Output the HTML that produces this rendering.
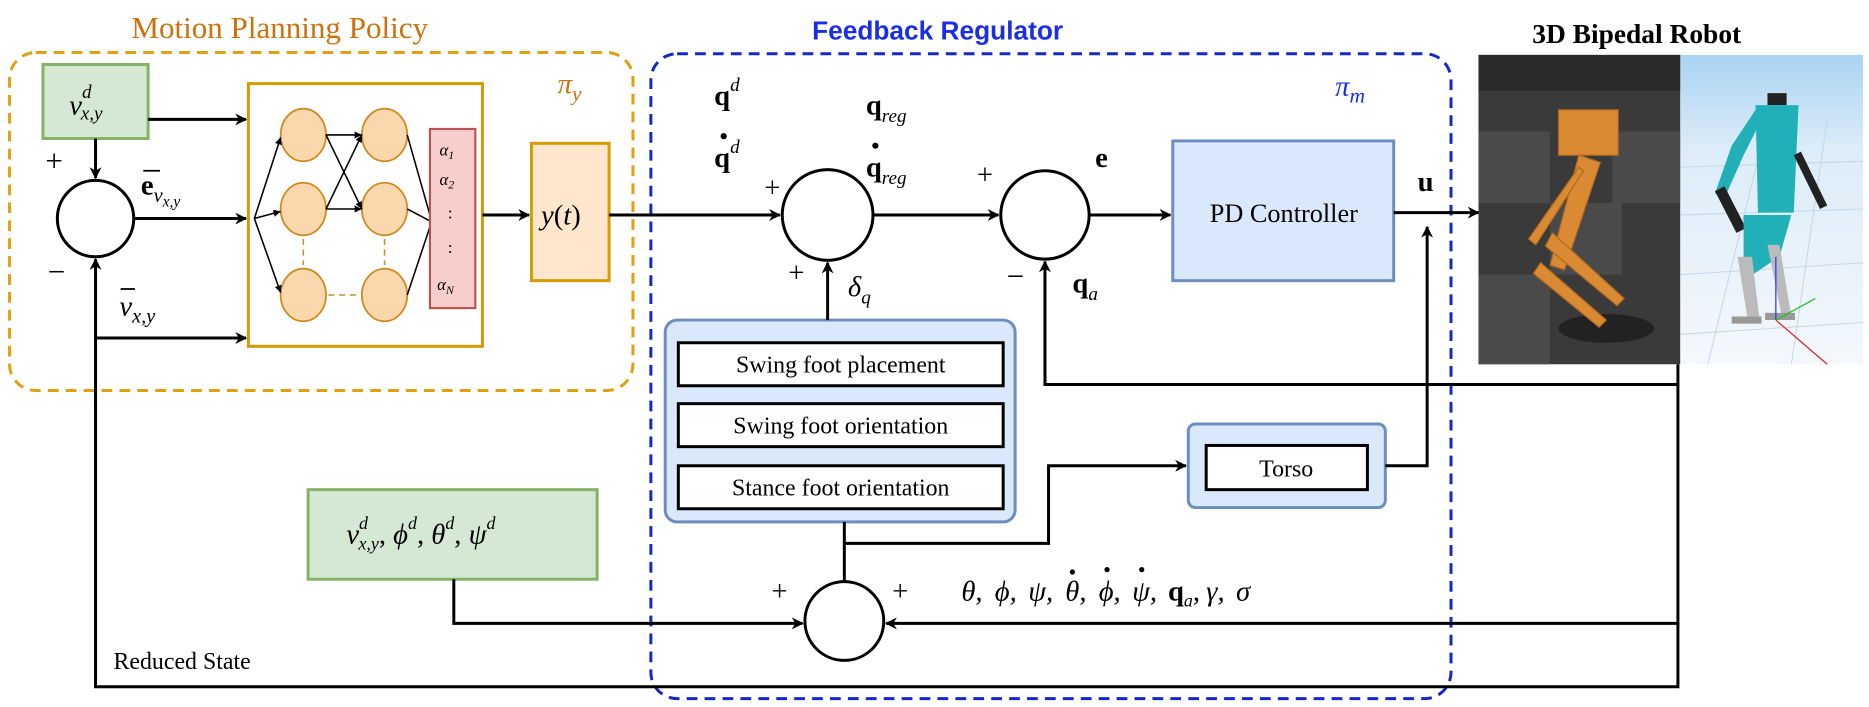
<!DOCTYPE html>
<html><head><meta charset="utf-8"><style>
html,body{margin:0;padding:0;background:#fff;}
svg{display:block;}
text{font-family:"Liberation Serif",serif;}
.m{font-style:italic;font-size:24px;}
.b{font-weight:bold;font-size:24px;}
.s{font-size:15px;font-style:italic;}
</style></head><body>
<svg width="1869" height="707" viewBox="0 0 1565 592" preserveAspectRatio="none" xmlns="http://www.w3.org/2000/svg">
<defs>
<marker id="a" markerWidth="10" markerHeight="10" refX="9" refY="5" orient="auto" markerUnits="userSpaceOnUse"><path d="M0,0 L10,5 L0,10 L3,5 z" fill="#000"/></marker>
<marker id="as" markerWidth="6" markerHeight="6" refX="6" refY="3" orient="auto" markerUnits="userSpaceOnUse"><path d="M0,0 L6,3 L0,6 z" fill="#000"/></marker>
<linearGradient id="sky" x1="0" y1="0" x2="0" y2="1"><stop offset="0" stop-color="#a9d3f3"/><stop offset="0.3" stop-color="#dcecf8"/><stop offset="1" stop-color="#f4f8fc"/></linearGradient>
</defs>

<text x="110" y="32" font-size="26" fill="#d0700a">Motion Planning Policy</text>
<text x="680" y="33" font-size="22" font-weight="bold" fill="#1a2ee8" style="font-family:'Liberation Sans',sans-serif">Feedback Regulator</text>
<text x="1283" y="36" font-size="23" font-weight="bold" fill="#000">3D Bipedal Robot</text>

<rect x="8" y="44" width="522" height="283" rx="22" fill="none" stroke="#e0a010" stroke-width="2.5" stroke-dasharray="9,6"/>
<rect x="545" y="45" width="670" height="540" rx="22" fill="none" stroke="#1428c8" stroke-width="2.5" stroke-dasharray="9,6"/>
<text x="467" y="78" class="m" fill="#d0700a" font-size="28">π<tspan font-size="18" dy="6">y</tspan></text>
<text x="1118" y="80" class="m" fill="#1a2ee8" font-size="28">π<tspan font-size="18" dy="6">m</tspan></text>

<rect x="36" y="54" width="88" height="62" fill="#d5e8d4" stroke="#82b366" stroke-width="2.5"/>
<text x="58" y="96" class="m">v<tspan font-size="16" dy="-14">d</tspan><tspan font-size="16" dx="-9" dy="18">x,y</tspan></text>

<circle cx="80" cy="183" r="32" fill="#fff" stroke="#000" stroke-width="2.5"/>
<line x1="80" y1="116" x2="80" y2="149" stroke="#000" stroke-width="2.5" marker-end="url(#a)"/>
<line x1="124" y1="100" x2="206" y2="100" stroke="#000" stroke-width="2.5" marker-end="url(#a)"/>
<line x1="112" y1="183" x2="206" y2="183" stroke="#000" stroke-width="2.5" marker-end="url(#a)"/>
<line x1="80" y1="283" x2="206" y2="283" stroke="#000" stroke-width="2.5" marker-end="url(#a)"/>
<text x="38" y="143" font-size="26">+</text>
<text x="40" y="236" font-size="26">−</text>
<text x="118" y="163" class="b">e<tspan font-size="17" font-style="italic" font-weight="normal" dy="6">v</tspan><tspan font-size="13" font-style="italic" font-weight="normal" dy="4">x,y</tspan></text>
<line x1="120" y1="143" x2="134" y2="143" stroke="#000" stroke-width="1.5"/>
<text x="100" y="264" class="m">v<tspan font-size="17" dy="6">x,y</tspan></text>
<line x1="101" y1="242" x2="113" y2="242" stroke="#000" stroke-width="1.5"/>

<rect x="208" y="70" width="196" height="220" fill="#fff" stroke="#d79b00" stroke-width="2.5"/>
<g fill="#fad7ac" stroke="#d08a20" stroke-width="1.5">
<ellipse cx="254" cy="113" rx="19" ry="22"/><ellipse cx="322" cy="113" rx="19" ry="22"/>
<ellipse cx="254" cy="175" rx="19" ry="22"/><ellipse cx="322" cy="175" rx="19" ry="22"/>
<ellipse cx="254" cy="247" rx="19" ry="22"/><ellipse cx="322" cy="247" rx="19" ry="22"/>
</g>
<g stroke="#d08a20" stroke-width="1.3" stroke-dasharray="5,4">
<line x1="254" y1="200" x2="254" y2="222"/><line x1="322" y1="200" x2="322" y2="222"/><line x1="275" y1="247" x2="302" y2="247"/>
</g>
<g stroke="#000" stroke-width="1.3" fill="none">
<line x1="213" y1="183" x2="235" y2="115" marker-end="url(#as)"/>
<line x1="213" y1="183" x2="235" y2="177" marker-end="url(#as)"/>
<line x1="213" y1="183" x2="235" y2="245" marker-end="url(#as)"/>
<line x1="273" y1="113" x2="303" y2="113" marker-end="url(#as)"/>
<line x1="273" y1="113" x2="303" y2="175" marker-end="url(#as)"/>
<line x1="273" y1="175" x2="303" y2="113" marker-end="url(#as)"/>
<line x1="273" y1="175" x2="303" y2="175" marker-end="url(#as)"/>
<line x1="341" y1="113" x2="360" y2="180"/>
<line x1="341" y1="175" x2="360" y2="185"/>
<line x1="341" y1="247" x2="360" y2="190"/>
</g>
<rect x="360" y="108" width="38" height="150" fill="#f8cecc" stroke="#b85450" stroke-width="1.8"/>
<g font-size="14"><text x="368" y="130" font-style="italic">α<tspan font-size="10" dy="3">1</tspan></text>
<text x="368" y="155" font-style="italic">α<tspan font-size="10" dy="3">2</tspan></text>
<text x="375" y="183">:</text><text x="375" y="212">:</text>
<text x="366" y="243" font-style="italic">α<tspan font-size="10" dy="3">N</tspan></text></g>

<line x1="404" y1="180" x2="443" y2="180" stroke="#000" stroke-width="2.5" marker-end="url(#a)"/>
<rect x="445" y="120" width="65" height="115" fill="#ffe6cc" stroke="#d79b00" stroke-width="2.5"/>
<text x="453" y="188" class="m" font-size="23">y<tspan font-style="normal">(</tspan>t<tspan font-style="normal">)</tspan></text>

<line x1="510" y1="180" x2="653" y2="180" stroke="#000" stroke-width="2.5" marker-end="url(#a)"/>
<circle cx="693" cy="180" r="38" fill="#fff" stroke="#000" stroke-width="2.5"/>
<text x="598" y="88" class="b">q<tspan font-size="16" font-weight="normal" font-style="italic" dy="-12">d</tspan></text>
<text x="598" y="140" class="b">q<tspan font-size="16" font-weight="normal" font-style="italic" dy="-12">d</tspan></text>
<circle cx="606" cy="114" r="2.6" fill="#000"/>
<text x="640" y="165" font-size="24">+</text>
<text x="725" y="96" class="b">q<tspan font-size="16" font-weight="normal" font-style="italic" dy="6">reg</tspan></text>
<text x="725" y="148" class="b">q<tspan font-size="16" font-weight="normal" font-style="italic" dy="6">reg</tspan></text>
<circle cx="733" cy="122" r="2.6" fill="#000"/>
<text x="660" y="236" font-size="24">+</text>
<text x="710" y="248" class="m">δ<tspan font-size="16" dy="6">q</tspan></text>

<line x1="731" y1="180" x2="836" y2="180" stroke="#000" stroke-width="2.5" marker-end="url(#a)"/>
<circle cx="875" cy="180" r="37" fill="#fff" stroke="#000" stroke-width="2.5"/>
<text x="818" y="154" font-size="24">+</text>
<text x="917" y="140" class="b">e</text>
<text x="843" y="240" font-size="26">−</text>
<text x="898" y="245" class="b">q<tspan font-size="16" font-weight="normal" font-style="italic" dy="6">a</tspan></text>

<line x1="912" y1="180" x2="980" y2="180" stroke="#000" stroke-width="2.5" marker-end="url(#a)"/>
<rect x="982" y="118" width="185" height="117" fill="#dae8fc" stroke="#6c8ebf" stroke-width="2.5"/>
<text x="1075" y="186" font-size="22" text-anchor="middle">PD Controller</text>

<line x1="1167" y1="178" x2="1238" y2="178" stroke="#000" stroke-width="2.5" marker-end="url(#a)"/>
<text x="1187" y="160" class="b">u</text>

<rect x="995" y="355" width="165" height="70" rx="6" fill="#dae8fc" stroke="#6c8ebf" stroke-width="2.5"/>
<rect x="1010" y="373" width="135" height="37" fill="#fff" stroke="#000" stroke-width="2.5"/>
<text x="1077" y="399" font-size="20" text-anchor="middle">Torso</text>
<polyline points="1160,390 1195,390 1195,190" fill="none" stroke="#000" stroke-width="2.5" marker-end="url(#a)"/>

<polyline points="1405,305 1405,322 875,322 875,219" fill="none" stroke="#000" stroke-width="2.5" marker-end="url(#a)"/>

<rect x="557" y="268" width="293" height="169" rx="10" fill="#dae8fc" stroke="#6c8ebf" stroke-width="2.5"/>
<rect x="568" y="287" width="272" height="36" fill="#fff" stroke="#000" stroke-width="2.5"/>
<rect x="568" y="338" width="272" height="36" fill="#fff" stroke="#000" stroke-width="2.5"/>
<rect x="568" y="390" width="272" height="36" fill="#fff" stroke="#000" stroke-width="2.5"/>
<text x="704" y="312" font-size="20" text-anchor="middle">Swing foot placement</text>
<text x="704" y="363" font-size="20" text-anchor="middle">Swing foot orientation</text>
<text x="704" y="415" font-size="20" text-anchor="middle">Stance foot orientation</text>
<line x1="693" y1="268" x2="693" y2="220" stroke="#000" stroke-width="2.5" marker-end="url(#a)"/>

<polyline points="707,487 707,455 878,455 878,390 993,390" fill="none" stroke="#000" stroke-width="2.5" marker-end="url(#a)"/>
<line x1="707" y1="437" x2="707" y2="455" stroke="#000" stroke-width="2.5"/>

<circle cx="707" cy="520" r="33" fill="#fff" stroke="#000" stroke-width="2.5"/>
<text x="646" y="503" font-size="24">+</text>
<text x="747" y="503" font-size="24">+</text>
<rect x="258" y="410" width="242" height="75" fill="#d5e8d4" stroke="#82b366" stroke-width="2.5"/>
<text x="290" y="455" class="m" font-size="23">v<tspan font-size="15" dy="-12">d</tspan><tspan font-size="15" dx="-8" dy="17">x,y</tspan><tspan dy="-5" font-style="normal">, </tspan>ϕ<tspan font-size="15" dy="-12">d</tspan><tspan dy="12" font-style="normal">, </tspan>θ<tspan font-size="15" dy="-12">d</tspan><tspan dy="12" font-style="normal">, </tspan>ψ<tspan font-size="15" dy="-12">d</tspan></text>
<polyline points="380,485 380,522 672,522" fill="none" stroke="#000" stroke-width="2.5" marker-end="url(#a)"/>
<polyline points="1405,322 1405,522 742,522" fill="none" stroke="#000" stroke-width="2.5" marker-end="url(#a)"/>
<g class="m" font-size="22" font-style="italic">
<text x="805" y="503">θ,</text>
<text x="833" y="503">ϕ,</text>
<text x="861" y="503">ψ,</text>
<text x="892" y="503">θ,</text>
<text x="920" y="503">ϕ,</text>
<text x="948" y="503">ψ,</text>
<text x="978" y="503" font-weight="bold" font-style="normal">q<tspan font-size="15" font-weight="normal" font-style="italic" dy="5">a</tspan><tspan dy="-5" font-weight="normal" font-style="normal">,</tspan></text>
<text x="1010" y="503">γ,</text>
<text x="1035" y="503">σ</text>
</g>
<circle cx="898" cy="479" r="2.2" fill="#000"/>
<circle cx="927" cy="477" r="2.2" fill="#000"/>
<circle cx="956" cy="477" r="2.2" fill="#000"/>

<polyline points="1405,522 1405,575 80,575 80,217" fill="none" stroke="#000" stroke-width="2.5" marker-end="url(#a)"/>
<text x="95" y="560" font-size="20">Reduced State</text>

<rect x="1238" y="46" width="169" height="259" fill="#3a3a3a"/>
<path d="M1238,46 h169 v30 h-169z" fill="#2a2a2a"/>
<path d="M1238,110 h60 v60 h-60z M1298,170 h60 v60 h-60z M1350,110 h57 v60 h-57z M1238,230 h60 v75 h-60z" fill="#4a4a4a"/>
<ellipse cx="1345" cy="275" rx="40" ry="12" fill="#222"/>
<g fill="#d98a32" stroke="#b06a20" stroke-width="1">
<path d="M1305,92 h50 v38 h-50z"/>
<path d="M1322,130 l18,6 l-30,90 l-12,-4z"/>
<path d="M1300,195 l60,55 l-6,6 l-60,-50z"/>
<path d="M1290,220 l55,48 l-6,6 l-55,-45z"/>
<path d="M1280,200 l42,-60 l4,3 l-40,62z"/>
</g>
<rect x="1407" y="46" width="153" height="259" fill="url(#sky)"/>
<g stroke="#c0d6ea" stroke-width="0.8">
<line x1="1407" y1="140" x2="1560" y2="135"/><line x1="1407" y1="180" x2="1560" y2="175"/><line x1="1407" y1="230" x2="1560" y2="220"/><line x1="1407" y1="280" x2="1560" y2="270"/>
<line x1="1430" y1="305" x2="1480" y2="100"/><line x1="1500" y1="305" x2="1530" y2="100"/>
</g>
<g>
<rect x="1480" y="78" width="16" height="10" fill="#222"/>
<path d="M1470,88 h36 l-4,90 h-30z" fill="#22b0b8"/>
<path d="M1470,92 l-20,30 l-14,40 l8,4 l16,-36 l14,-28z" fill="#22b0b8"/>
<path d="M1436,160 l18,35 l8,-4 l-18,-35z" fill="#222"/>
<path d="M1502,130 l22,45 l6,-3 l-22,-45z" fill="#222"/>
<path d="M1460,180 l40,0 l-10,35 l-30,20 z" fill="#22b0b8"/>
<path d="M1455,215 l8,50 l10,0 l-6,-50z M1480,205 l12,60 l8,0 l-10,-60z" fill="#bbb"/>
<path d="M1450,265 h25 v6 h-25z M1478,262 h25 v6 h-25z" fill="#999"/>
<line x1="1487" y1="215" x2="1487" y2="268" stroke="#2030ff" stroke-width="1"/>
<line x1="1487" y1="268" x2="1520" y2="250" stroke="#20c020" stroke-width="1"/>
<line x1="1487" y1="268" x2="1530" y2="305" stroke="#e02020" stroke-width="1"/>
</g>
</svg>
</body></html>
